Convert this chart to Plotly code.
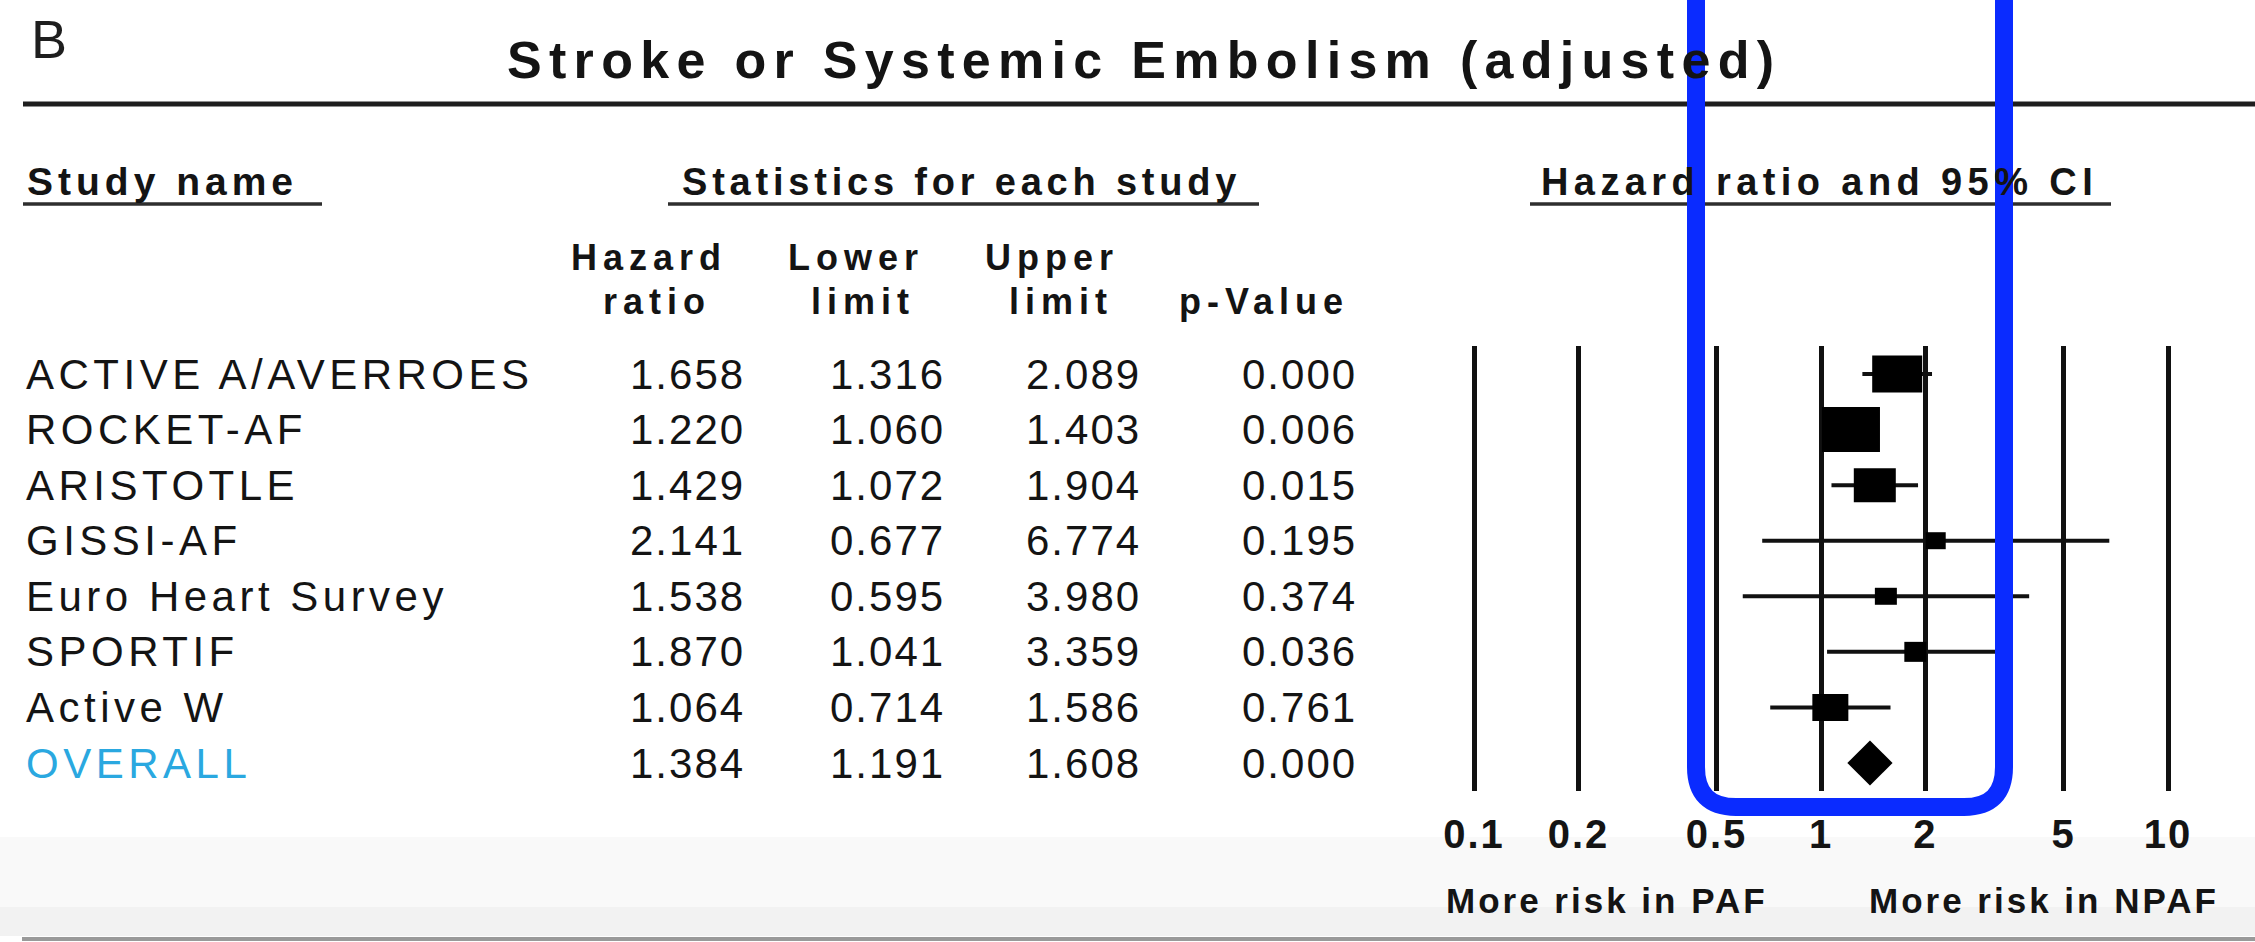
import plotly.graph_objects as go

# ---- data -------------------------------------------------------------
studies = ["ACTIVE A/AVERROES", "ROCKET-AF", "ARISTOTLE", "GISSI-AF",
           "Euro Heart Survey", "SPORTIF", "Active W", "OVERALL"]
hazard_ratio = [1.658, 1.220, 1.429, 2.141, 1.538, 1.870, 1.064, 1.384]
lower_limit = [1.316, 1.060, 1.072, 0.677, 0.595, 1.041, 0.714, 1.191]
upper_limit = [2.089, 1.403, 1.904, 6.774, 3.980, 3.359, 1.586, 1.608]
p_value = [0.000, 0.006, 0.015, 0.195, 0.374, 0.036, 0.761, 0.000]

tick_values = [0.1, 0.2, 0.5, 1, 2, 5, 10]
tick_labels = ["0.1", "0.2", "0.5", "1", "2", "5", "10"]

# ---- geometry & styling -------------------------------------------------
W, H = 2255, 942
FONT = "Liberation Sans, Arial, Helvetica, sans-serif"
INK = "#141414"
OVERALL_COLOR = "#2aa8e0"
HIGHLIGHT = "#0a2bff"

# forest panel: 0.1 -> 10 spans these pixel columns, rows span these pixel rows
X_LO_PX, X_HI_PX = 1474, 2168
DECADE_PX = (X_HI_PX - X_LO_PX) / 2
PAD_DEC = 0.02                      # keeps edge grid lines inside the plot area
ROW_TOP_PX, ROW_BOT_PX = 374, 763
n_rows = len(studies)
ROW_PX = (ROW_BOT_PX - ROW_TOP_PX) / (n_rows - 1)

# study-weight boxes (width, height) in screen pixels
box_px = [(50, 37), (58, 45), (42, 34), (20, 17), (22, 17), (22, 20), (36, 27)]
DIAMOND_HALF_PX = 22.5


def px(x):
    return x / W


def py(y):
    return 1 - y / H


def spaced(text, ls):
    return f'<span style="letter-spacing:{ls}px">{text}</span>' if ls else text


annotations = []


def label(text, x, y, size, bold=False, anchor="left", ls=0, color=INK, yref="paper"):
    annotations.append(dict(
        text=spaced(text, ls), x=px(x), y=(y if yref == "y" else py(y)),
        xref="paper", yref=yref, xanchor=anchor, yanchor="middle",
        showarrow=False,
        font=dict(family=FONT, size=size, color=color,
                  weight="bold" if bold else "normal"),
    ))


rows = list(range(n_rows))
study_rows = rows[:-1]

fig = go.Figure()

# confidence intervals for individual studies
fig.add_trace(go.Scatter(
    x=hazard_ratio[:-1], y=study_rows, mode="markers",
    marker=dict(size=1, color="rgba(0,0,0,0)"),
    error_x=dict(type="data", symmetric=False,
                 array=[u - h for u, h in zip(upper_limit[:-1], hazard_ratio[:-1])],
                 arrayminus=[h - l for h, l in zip(hazard_ratio[:-1], lower_limit[:-1])],
                 thickness=4, width=0, color="#111111"),
    hoverinfo="skip", showlegend=False,
))

# study boxes centred on each hazard ratio
for i, (w, h) in zip(study_rows, box_px):
    f = 10 ** (w / 2 / DECADE_PX)
    dh = h / 2 / ROW_PX
    hr = hazard_ratio[i]
    fig.add_trace(go.Scatter(
        x=[hr / f, hr * f, hr * f, hr / f, hr / f],
        y=[i - dh, i - dh, i + dh, i + dh, i - dh],
        mode="lines", fill="toself", fillcolor="#000000",
        line=dict(width=0, color="#000000"),
        hoverinfo="skip", showlegend=False,
    ))

# pooled estimate diamond spanning the overall CI
r = rows[-1]
dd = DIAMOND_HALF_PX / ROW_PX
fig.add_trace(go.Scatter(
    x=[lower_limit[-1], hazard_ratio[-1], upper_limit[-1], hazard_ratio[-1], lower_limit[-1]],
    y=[r, r - dd, r, r + dd, r],
    mode="lines", fill="toself", fillcolor="#000000",
    line=dict(width=0, color="#000000"),
    hoverinfo="skip", showlegend=False,
))

shapes = []

# page bands at the foot of the figure
shapes.append(dict(type="rect", xref="paper", yref="paper", layer="below",
                   x0=0, x1=1, y0=py(907), y1=py(837),
                   fillcolor="#f9f9f9", line=dict(width=0)))
shapes.append(dict(type="rect", xref="paper", yref="paper", layer="below",
                   x0=0, x1=1, y0=py(936), y1=py(907),
                   fillcolor="#f2f2f2", line=dict(width=0)))
shapes.append(dict(type="line", xref="paper", yref="paper", layer="below",
                   x0=px(22), x1=1, y0=py(939), y1=py(939),
                   line=dict(color="#9a9a9a", width=4)))

# header rule and column-group underlines
shapes.append(dict(type="line", xref="paper", yref="paper",
                   x0=px(23), x1=1, y0=py(104), y1=py(104),
                   line=dict(color="#1e1e1e", width=5)))
for x0, x1 in [(23, 322), (668, 1259), (1530, 2111)]:
    shapes.append(dict(type="line", xref="paper", yref="paper",
                       x0=px(x0), x1=px(x1), y0=py(204), y1=py(204),
                       line=dict(color="#2e2e2e", width=3.5)))

# highlight frame
L, R, B, T, RAD = 1696, 2004, 807, -20, 40
path = (f"M {px(L)},{py(T)} L {px(L)},{py(B - RAD)} "
        f"Q {px(L)},{py(B)} {px(L + RAD)},{py(B)} "
        f"L {px(R - RAD)},{py(B)} "
        f"Q {px(R)},{py(B)} {px(R)},{py(B - RAD)} "
        f"L {px(R)},{py(T)}")
shapes.append(dict(type="path", xref="paper", yref="paper", layer="above",
                   path=path, line=dict(color=HIGHLIGHT, width=18)))

# ---- text ---------------------------------------------------------------
label("B", 29, 39, 54, ls=1, color="#1e1e1e")
label("Stroke or Systemic Embolism (adjusted)", 1144, 60, 52, bold=True,
      anchor="center", ls=7.3)

label("Study name", 25, 182, 39, bold=True, ls=5)
label("Statistics for each study", 961, 182, 38, bold=True, anchor="center", ls=4.8)
label("Hazard ratio and 95% CI", 1819, 182, 38, bold=True, anchor="center", ls=5.4)

for text, x, y in [("Hazard", 649, 257), ("ratio", 657, 302),
                   ("Lower", 856, 257), ("limit", 863, 302),
                   ("Upper", 1052, 257), ("limit", 1061, 302),
                   ("p-Value", 1264, 302)]:
    label(text, x, y, 36, bold=True, anchor="center", ls=6)

columns = [(hazard_ratio, 747), (lower_limit, 947), (upper_limit, 1143), (p_value, 1359)]
for i in rows:
    color = OVERALL_COLOR if studies[i] == "OVERALL" else INK
    label(studies[i], 24, i, 42, ls=4.5, color=color, yref="y")
    for values, right in columns:
        label(f"{values[i]:.3f}", right, i, 42, anchor="right", ls=2, yref="y")

label("More risk in PAF", 1607, 900, 35, bold=True, anchor="center", ls=3)
label("More risk in NPAF", 2044, 900, 35, bold=True, anchor="center", ls=3)

# ---- axes -----------------------------------------------------------------
pad_px = PAD_DEC * DECADE_PX
fig.update_layout(
    width=W, height=H, autosize=False,
    margin=dict(l=0, r=0, t=0, b=0, pad=0, autoexpand=False),
    paper_bgcolor="#ffffff", plot_bgcolor="rgba(0,0,0,0)",
    showlegend=False,
    shapes=shapes, annotations=annotations,
    xaxis=dict(
        type="log", range=[-1 - PAD_DEC, 1 + PAD_DEC],
        domain=[px(X_LO_PX - pad_px), px(X_HI_PX + pad_px)],
        tickmode="array", tickvals=tick_values,
        ticktext=[spaced(t, 2) for t in tick_labels],
        ticks="", showline=False, zeroline=False,
        showgrid=True, gridcolor="#111111", gridwidth=5,
        tickfont=dict(family=FONT, size=40, color=INK, weight="bold"),
        ticklabelstandoff=16, automargin=False,
        fixedrange=True,
    ),
    yaxis=dict(
        range=[n_rows - 0.5, -0.5],
        domain=[py(ROW_BOT_PX + ROW_PX / 2), py(ROW_TOP_PX - ROW_PX / 2)],
        visible=False, showgrid=False, zeroline=False, automargin=False,
        fixedrange=True,
    ),
)

fig.write_html("out.html", config={"displayModeBar": False})
